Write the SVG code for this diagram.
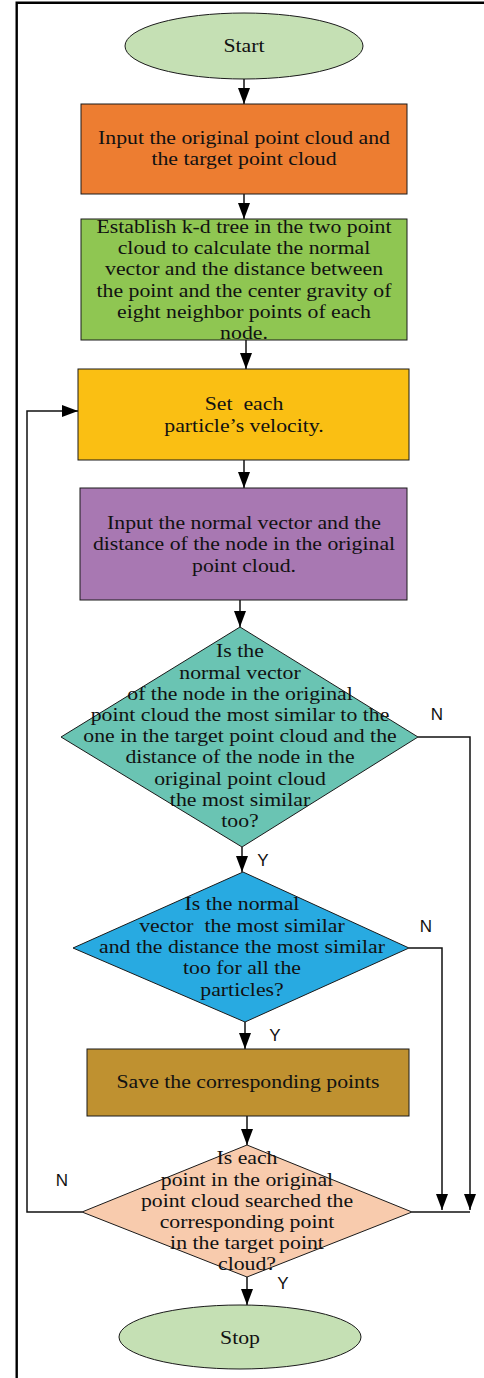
<svg xmlns="http://www.w3.org/2000/svg" width="484" height="1378" viewBox="0 0 484 1378">
<style>
.shape{stroke:#1a1a1a;stroke-width:1}
.t{font-family:"Liberation Serif","Times New Roman",serif;font-size:18px;fill:#111;text-anchor:middle}
.lbl{font-family:"Liberation Sans",Arial,sans-serif;font-size:17px;fill:#111;text-anchor:middle}
.c{fill:none;stroke:#111;stroke-width:1.5}
.frame{fill:none;stroke:#000;stroke-width:2.4}
</style>
<defs>
<marker id="ah" markerUnits="userSpaceOnUse" markerWidth="17" markerHeight="12" refX="16" refY="6" orient="auto">
<path d="M0,0 L16,6 L0,12 z" fill="#000"/>
</marker>
</defs>
<rect width="484" height="1378" fill="#fff"/>
<path class="frame" d="M16.7,1378 V2.8 H484"/>

<g id="connectors">
<line class="c" x1="244" y1="79" x2="244" y2="104" marker-end="url(#ah)"/>
<line class="c" x1="244" y1="194" x2="244" y2="219" marker-end="url(#ah)"/>
<line class="c" x1="246" y1="340" x2="246" y2="369" marker-end="url(#ah)"/>
<line class="c" x1="244" y1="460" x2="244" y2="488" marker-end="url(#ah)"/>
<line class="c" x1="240" y1="600" x2="240" y2="627" marker-end="url(#ah)"/>
<line class="c" x1="242" y1="847" x2="242" y2="872" marker-end="url(#ah)"/>
<line class="c" x1="245" y1="1022" x2="245" y2="1049" marker-end="url(#ah)"/>
<line class="c" x1="247" y1="1116" x2="247" y2="1145" marker-end="url(#ah)"/>
<line class="c" x1="247" y1="1277" x2="247" y2="1305" marker-end="url(#ah)"/>
<polyline class="c" points="418,737 470,737 470,1210" marker-end="url(#ah)"/>
<polyline class="c" points="409,948 442,948 442,1210" marker-end="url(#ah)"/>
<line class="c" x1="412" y1="1212" x2="470" y2="1212"/>
<polyline class="c" points="82,1212 27,1212 27,411 78,411" marker-end="url(#ah)"/>
<text class="lbl" x="437" y="720">N</text>
<text class="lbl" x="263" y="866">Y</text>
<text class="lbl" x="426" y="932">N</text>
<text class="lbl" x="275" y="1041">Y</text>
<text class="lbl" x="62" y="1186">N</text>
<text class="lbl" x="283" y="1289">Y</text>
</g>

<g id="start">
<ellipse class="shape" cx="244" cy="46" rx="119" ry="33" fill="#C5E0B4"/>
<g transform="translate(244 0) scale(1.21 1)"><text class="t" x="0" y="52">Start</text></g>
</g>

<g id="input-clouds">
<rect class="shape" x="81" y="104" width="326" height="90" fill="#ED7D31"/>
<g transform="translate(244 0) scale(1.21 1)">
<text class="t" x="0" y="144">Input the original point cloud and</text>
<text class="t" x="0" y="165">the target point cloud</text>
</g>
</g>

<g id="kd-tree">
<rect class="shape" x="81" y="219" width="326" height="121" fill="#8FC652"/>
<g transform="translate(244 0) scale(1.21 1)">
<text class="t" x="0" y="233">Establish k-d tree in the two point</text>
<text class="t" x="0" y="254">cloud to calculate the normal</text>
<text class="t" x="0" y="275">vector and the distance between</text>
<text class="t" x="0" y="297">the point and the center gravity of</text>
<text class="t" x="0" y="318">eight neighbor points of each</text>
<text class="t" x="0" y="339">node.</text>
</g>
</g>

<g id="velocity">
<rect class="shape" x="78" y="369" width="331" height="91" fill="#FABF13"/>
<g transform="translate(244 0) scale(1.21 1)">
<text class="t" x="0" y="410" xml:space="preserve">Set  each</text>
<text class="t" x="0" y="432">particle’s velocity.</text>
</g>
</g>

<g id="input-normal">
<rect class="shape" x="80" y="488" width="327" height="112" fill="#A878B2"/>
<g transform="translate(244 0) scale(1.21 1)">
<text class="t" x="0" y="529">Input the normal vector and the</text>
<text class="t" x="0" y="550">distance of the node in the original</text>
<text class="t" x="0" y="572">point cloud.</text>
</g>
</g>

<g id="decision-node">
<polygon class="shape" points="240,627 418,737 242,847 61,737" fill="#6AC4B3"/>
<g transform="translate(240 0) scale(1.21 1)">
<text class="t" x="0" y="657">Is the</text>
<text class="t" x="0" y="679">normal vector</text>
<text class="t" x="0" y="700">of the node in the original</text>
<text class="t" x="0" y="721">point cloud the most similar to the</text>
<text class="t" x="0" y="742">one in the target point cloud and the</text>
<text class="t" x="0" y="763">distance of the node in the</text>
<text class="t" x="0" y="785">original point cloud</text>
<text class="t" x="0" y="806">the most similar</text>
<text class="t" x="0" y="827">too?</text>
</g>
</g>

<g id="decision-all">
<polygon class="shape" points="243,872 409,948 245,1022 73,948" fill="#28AAE1"/>
<g transform="translate(242 0) scale(1.21 1)">
<text class="t" x="0" y="910">Is the normal</text>
<text class="t" x="0" y="932" xml:space="preserve">vector  the most similar</text>
<text class="t" x="0" y="953">and the distance the most similar</text>
<text class="t" x="0" y="974">too for all the</text>
<text class="t" x="0" y="996">particles?</text>
</g>
</g>

<g id="save">
<rect class="shape" x="87" y="1049" width="322" height="67" fill="#BF9130"/>
<g transform="translate(248 0) scale(1.21 1)">
<text class="t" x="0" y="1088">Save the corresponding points</text>
</g>
</g>

<g id="decision-each">
<polygon class="shape" points="247,1145 412,1212 247,1277 82,1212" fill="#F8CBAD"/>
<g transform="translate(247 0) scale(1.21 1)">
<text class="t" x="0" y="1164">Is each</text>
<text class="t" x="0" y="1186">point in the original</text>
<text class="t" x="0" y="1207">point cloud searched the</text>
<text class="t" x="0" y="1228">corresponding point</text>
<text class="t" x="0" y="1249">in the target point</text>
<text class="t" x="0" y="1270">cloud?</text>
</g>
</g>

<g id="stop">
<ellipse class="shape" cx="240" cy="1337" rx="121" ry="32" fill="#C5E0B4"/>
<g transform="translate(240 0) scale(1.21 1)"><text class="t" x="0" y="1344">Stop</text></g>
</g>
</svg>
